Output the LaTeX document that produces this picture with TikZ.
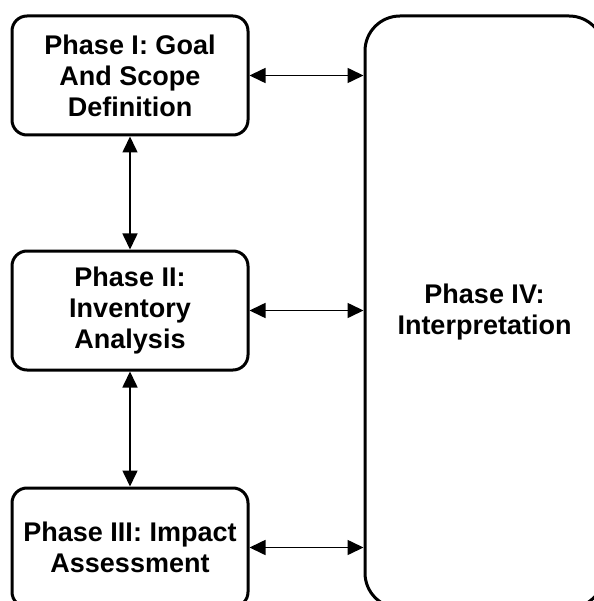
\documentclass[tikz,border=0pt]{standalone}
\usepackage{fontspec}
\setmainfont{Liberation Sans}
\usetikzlibrary{arrows.meta, positioning}

\begin{document}
\begin{tikzpicture}[x=1pt, y=-1pt]
        % Styles for the boxes and links
        \tikzset{
            phasebox/.style={draw=black, line width=3pt, rounded corners=15pt,
                minimum width=236pt, minimum height=119pt, inner sep=0pt,
                align=center, font=\fontsize{27}{31}\selectfont\bfseries},
            interbox/.style={phasebox, rounded corners=35pt,
                minimum width=239pt, minimum height=592pt},
            link/.style={line width=1.6pt, {Triangle[length=16pt, width=15pt]}-{Triangle[length=16pt, width=15pt]}}
        }

        % Page frame
        \useasboundingbox (0,0) rectangle (593,601);

        % Left column: phases I to III
        \node[phasebox] (goal) at (130,75.5) {Phase I: Goal\\And Scope\\Definition};
        \node[phasebox] (inventory) at (130,310.5) {Phase II:\\Inventory\\Analysis};
        \node[phasebox] (impact) at (130,547.5) {Phase III: Impact\\Assessment};

        % Right column: phase IV
        \node[interbox] (interp) at (484.5,312) {Phase IV:\\Interpretation};

        % Vertical links
        \draw[link] (goal.south) -- (inventory.north);
        \draw[link] (inventory.south) -- (impact.north);

        % Horizontal links to phase IV
        \draw[link] (goal.east) -- (goal.east -| interp.west);
        \draw[link] (inventory.east) -- (inventory.east -| interp.west);
        \draw[link] (impact.east) -- (impact.east -| interp.west);
    \end{tikzpicture}
\end{document}
